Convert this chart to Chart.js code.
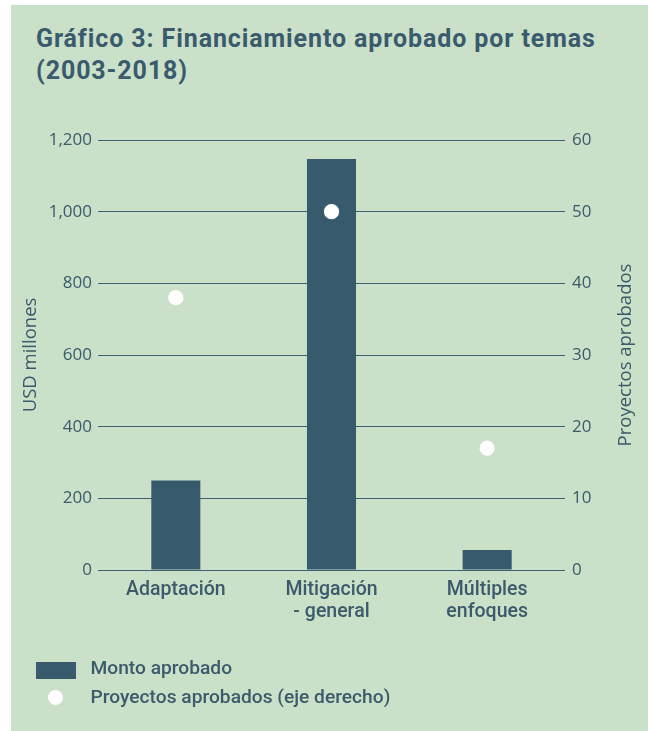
<!DOCTYPE html>
<html>
<head>
<meta charset="utf-8">
<script src="https://cdn.jsdelivr.net/npm/chart.js@4"></script>
<style>
  html, body { margin: 0; padding: 0; background: #ffffff; }
  #wrap { position: relative; width: 648px; height: 731px; overflow: hidden; }
  #panel { position: absolute; left: 11px; top: 5px; width: 637px; height: 726px; background: #cbe0c8; }
  #title { position: absolute; left: 36px; top: 22.5px; font-family: Roboto, sans-serif; font-weight: 700;
           font-size: 25px; line-height: 32px; letter-spacing: 0.9px; color: #395b6d; white-space: nowrap; }
  canvas { position: absolute; left: 0; top: 0; }
  .lg { position: absolute; font-family: Roboto, sans-serif; font-weight: 500; font-size: 19.2px; line-height: 20px; color: #3b5a6b; white-space: nowrap; }
  .sw-bar { position: absolute; left: 36px; top: 662px; width: 40px; height: 17px; }
  .sw-dot { position: absolute; left: 48px; top: 690px; width: 15.4px; height: 15.4px; border-radius: 50%; background: #ffffff; }
</style>
</head>
<body>
<div id="wrap">
  <div id="panel"></div>
  <div id="title">Gráfico 3: Financiamiento aprobado por temas<br>(2003-2018)</div>
  <canvas id="c" width="648" height="731" style="width:648px;height:731px"></canvas>
  <div id="legend"></div>
</div>
<script>
const categories = [["Adaptación"], ["Mitigación", "- general"], ["Múltiples", "enfoques"]];
const montoAprobado = [250, 1147, 56];
const proyectosAprobados = [38, 50, 17];
const leftAxisTicks = [0, 200, 400, 600, 800, 1000, 1200];
const rightAxisTicks = [0, 10, 20, 30, 40, 50, 60];
const seriesLabels = ["Monto aprobado", "Proyectos aprobados (eje derecho)"];
const axisTitles = ["USD millones", "Proyectos aprobados"];

const TEXT = '#3b5a6b';
const BAR = '#375a6c';
const AXIS_TITLE_FONT = { family: 'Open Sans', size: 18.5, weight: 500 };

// Right-axis title reading bottom-to-top, as in the reference
const rightTitle = {
  id: 'rightTitle',
  afterDraw(chart) {
    const s = chart.scales.y1, ctx = chart.ctx, a = chart.chartArea;
    ctx.save();
    ctx.font = AXIS_TITLE_FONT.weight + ' ' + AXIS_TITLE_FONT.size + 'px "' + AXIS_TITLE_FONT.family + '"';
    ctx.fillStyle = TEXT;
    ctx.textAlign = 'center';
    ctx.textBaseline = 'middle';
    ctx.translate(s.right - 17, (a.top + a.bottom) / 2);
    ctx.rotate(-Math.PI / 2);
    ctx.fillText(axisTitles[1], 0, 0);
    ctx.restore();
  }
};

const chart = new Chart(document.getElementById('c'), {
  data: {
    labels: categories,
    datasets: [
      {
        type: 'line',
        label: seriesLabels[1],
        data: proyectosAprobados,
        yAxisID: 'y1',
        showLine: false,
        pointRadius: 7.6,
        pointBackgroundColor: '#ffffff',
        pointBorderWidth: 0,
        order: 0
      },
      {
        type: 'bar',
        label: seriesLabels[0],
        data: montoAprobado,
        yAxisID: 'y',
        backgroundColor: BAR,
        barPercentage: 0.315,
        categoryPercentage: 1,
        order: 1
      }
    ]
  },
  plugins: [rightTitle],
  options: {
    responsive: false,
    animation: false,
    layout: { padding: { left: 14, right: 5, top: 140, bottom: 91 } },
    plugins: { legend: { display: false }, tooltip: { enabled: false } },
    scales: {
      x: {
        grid: { display: false, drawTicks: false },
        border: { display: false },
        ticks: { color: TEXT, font: { family: 'Roboto', size: 19.5, weight: 500, lineHeight: 1.13 }, padding: 9, maxRotation: 0 },
        afterFit: s => { s.height = 70; }
      },
      y: {
        position: 'left',
        min: 0, max: 1200,
        afterBuildTicks: s => { s.ticks = leftAxisTicks.map(v => ({ value: v })); },
        grid: { color: '#3f6072', lineWidth: 1, drawTicks: false },
        border: { display: false },
        ticks: { color: TEXT, font: { family: 'Open Sans', size: 17 }, padding: 6,
                 callback: v => v.toLocaleString('en-US') },
        title: { display: true, text: axisTitles[0], color: TEXT, font: AXIS_TITLE_FONT, padding: { top: 6, bottom: 0 } },
        afterFit: s => { s.width = 84; }
      },
      y1: {
        position: 'right',
        min: 0, max: 60,
        afterBuildTicks: s => { s.ticks = rightAxisTicks.map(v => ({ value: v })); },
        grid: { display: false, drawTicks: false },
        border: { display: false },
        ticks: { color: TEXT, font: { family: 'Open Sans', size: 17 }, padding: 7 },
        title: { display: false, text: axisTitles[1] },
        afterFit: s => { s.width = 78; }
      }
    }
  }
});

// Legend built from the chart's datasets
const lg = document.getElementById('legend');
const bar = chart.data.datasets[1], dot = chart.data.datasets[0];
lg.innerHTML =
  '<div class="sw-bar" style="background:' + bar.backgroundColor + '"></div>' +
  '<div class="lg" style="left:90.5px;top:658.3px">' + bar.label + '</div>' +
  '<div class="sw-dot"></div>' +
  '<div class="lg" style="left:90.5px;top:687.3px">' + dot.label + '</div>';
</script>
</body>
</html>
